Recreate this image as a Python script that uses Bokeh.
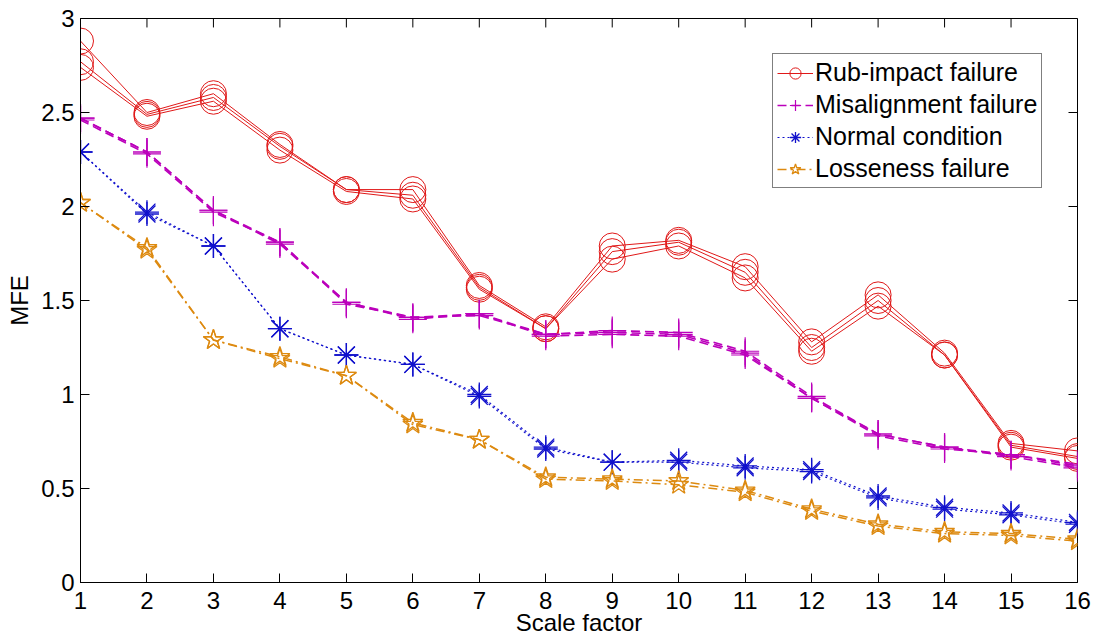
from bokeh.plotting import figure
from bokeh.models import Legend, LegendItem, FixedTicker, Range1d
from bokeh.embed import file_html
from bokeh.resources import INLINE

scale = list(range(1, 17))

rub_1 = [2.88, 2.50, 2.60, 2.33, 2.09, 2.09, 1.58, 1.36, 1.79, 1.82, 1.68, 1.28, 1.53, 1.22, 0.74, 0.70]
rub_2 = [2.77, 2.49, 2.58, 2.32, 2.09, 2.06, 1.57, 1.35, 1.76, 1.81, 1.65, 1.25, 1.50, 1.21, 0.73, 0.67]
rub_3 = [2.74, 2.48, 2.56, 2.30, 2.08, 2.04, 1.56, 1.35, 1.72, 1.79, 1.62, 1.23, 1.47, 1.21, 0.72, 0.66]

mis_1 = [2.47, 2.29, 1.98, 1.81, 1.49, 1.41, 1.43, 1.32, 1.34, 1.33, 1.23, 0.99, 0.79, 0.72, 0.68, 0.63]
mis_2 = [2.47, 2.29, 1.98, 1.80, 1.49, 1.40, 1.43, 1.31, 1.32, 1.31, 1.21, 0.98, 0.79, 0.72, 0.67, 0.61]
mis_3 = [2.46, 2.28, 1.97, 1.81, 1.48, 1.41, 1.42, 1.32, 1.33, 1.32, 1.22, 0.98, 0.78, 0.71, 0.68, 0.62]

nor_1 = [2.29, 1.97, 1.79, 1.35, 1.21, 1.16, 1.00, 0.72, 0.64, 0.65, 0.62, 0.60, 0.46, 0.40, 0.37, 0.32]
nor_2 = [2.29, 1.96, 1.79, 1.35, 1.21, 1.16, 0.99, 0.71, 0.64, 0.64, 0.61, 0.59, 0.45, 0.39, 0.36, 0.31]

los_1 = [2.02, 1.78, 1.29, 1.20, 1.10, 0.85, 0.76, 0.56, 0.55, 0.54, 0.49, 0.39, 0.31, 0.27, 0.26, 0.23]
los_2 = [2.02, 1.77, 1.29, 1.19, 1.10, 0.84, 0.76, 0.55, 0.54, 0.52, 0.48, 0.38, 0.30, 0.26, 0.25, 0.22]

y_ticks = [0, 0.5, 1, 1.5, 2, 2.5, 3]
y_tick_labels = ["0", "0.5", "1", "1.5", "2", "2.5", "3"]

FONT = "Liberation Sans"
FS = "24px"

W, H = 1095, 638
BL, BR, BT, BB = 80, 18, 18, 54
FW, FH = W - BL - BR, H - BT - BB
X0, X1, Y0, Y1 = 1, 16, 0, 3

p = figure(width=W, height=H, output_backend="svg", toolbar_location=None,
           x_range=Range1d(X0, X1), y_range=Range1d(Y0, Y1),
           min_border_left=BL, min_border_right=BR, min_border_top=BT, min_border_bottom=BB)
p.xgrid.visible = False
p.ygrid.visible = False
p.outline_line_color = "black"
p.outline_line_width = 1
p.background_fill_color = "white"
p.border_fill_color = "white"

p.xaxis.ticker = FixedTicker(ticks=scale)
p.yaxis.ticker = FixedTicker(ticks=y_ticks)
p.yaxis.major_label_overrides = {t: l for t, l in zip(y_ticks, y_tick_labels)}
p.xaxis.axis_label = "Scale factor"
p.yaxis.axis_label = "MFE"
for ax in [p.xaxis[0], p.yaxis[0]]:
    ax.major_label_text_font = FONT
    ax.major_label_text_font_size = FS
    ax.major_label_text_color = "black"
    ax.axis_label_text_font = FONT
    ax.axis_label_text_font_size = FS
    ax.axis_label_text_font_style = "normal"
    ax.axis_label_text_color = "black"
    ax.major_tick_in = 9
    ax.major_tick_out = 0
    ax.minor_tick_in = 0
    ax.minor_tick_out = 0
    ax.axis_line_color = "black"
    ax.major_tick_line_color = "black"
p.xaxis.major_label_standoff = 9
p.xaxis.axis_label_standoff = -3
p.yaxis.major_label_standoff = 6
p.yaxis.axis_label_standoff = 5

# inward ticks on top and right edges (MATLAB box style)
tx = 9 * (X1 - X0) / FW
ty = 9 * (Y1 - Y0) / FH
p.segment(x0=scale, y0=[Y1] * len(scale), x1=scale, y1=[Y1 - ty] * len(scale),
          line_color="black", line_width=1)
p.segment(x0=[X1] * len(y_ticks), y0=y_ticks, x1=[X1 - tx] * len(y_ticks), y1=y_ticks,
          line_color="black", line_width=1)

RED = "#e01818"
MAG = "#bb00bb"
BLUE = "#1010cc"
ORG = "#dd8a10"

items = []

rends = []
for ys in [rub_1, rub_2, rub_3]:
    l = p.line(scale, ys, line_color=RED, line_width=1)
    s = p.scatter(scale, ys, marker="circle", size=26, fill_color=None, line_color=RED, line_width=1)
    rends += [l, s]
items.append(LegendItem(label="Rub-impact failure", renderers=rends[:2]))

rends = []
for ys in [mis_1, mis_2, mis_3]:
    l = p.line(scale, ys, line_color=MAG, line_width=1.6, line_dash="9 5")
    s = p.scatter(scale, ys, marker="cross", size=28, line_color=MAG, line_width=1.2)
    rends += [l, s]
items.append(LegendItem(label="Misalignment failure", renderers=rends[:2]))

rends = []
for ys in [nor_1, nor_2]:
    l = p.line(scale, ys, line_color=BLUE, line_width=1.2, line_dash="2 3")
    s = p.scatter(scale, ys, marker="asterisk", size=24, line_color=BLUE, line_width=1.3)
    rends += [l, s]
items.append(LegendItem(label="Normal condition", renderers=rends[:2]))

rends = []
for ys in [los_1, los_2]:
    l = p.line(scale, ys, line_color=ORG, line_width=1.5, line_dash="9 4 2 4")
    s = p.scatter(scale, ys, marker="star", size=21, fill_color=None, line_color=ORG, line_width=1.3)
    rends += [l, s]
items.append(LegendItem(label="Losseness failure", renderers=rends[:2]))

legend = Legend(items=items, location=(692, 394),
                label_text_font=FONT, label_text_font_size="25px", label_text_color="black",
                border_line_color="black", border_line_width=1,
                glyph_width=36, glyph_height=28, spacing=3, padding=4, margin=0,
                label_standoff=2, label_height=24, background_fill_alpha=1)
p.add_layout(legend, "center")

open("out.html", "w").write(file_html(p, INLINE))
